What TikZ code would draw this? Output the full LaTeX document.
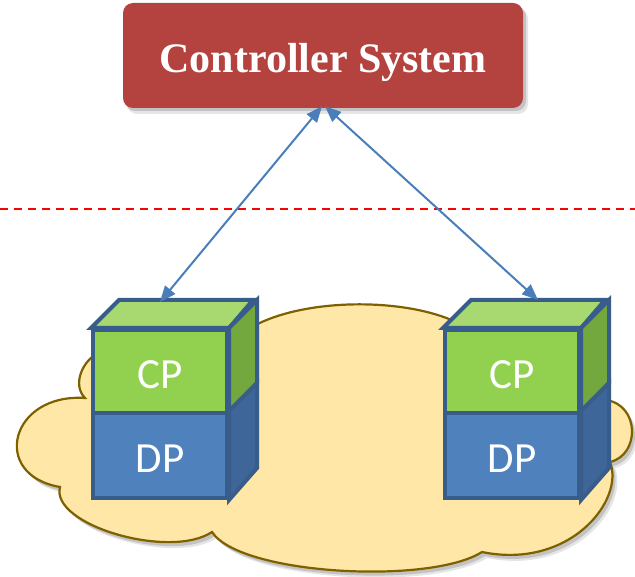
\documentclass[tikz,border=0pt]{standalone}
\usepackage{fontspec}
\setmainfont{Liberation Serif}
\newfontfamily\cpfont{Carlito}
\usetikzlibrary{arrows.meta}
\definecolor{ctrlred}{RGB}{180,67,63}
\definecolor{cloudfill}{RGB}{254,231,167}
\definecolor{cloudline}{RGB}{127,96,0}
\definecolor{cubeline}{RGB}{56,93,138}
\definecolor{gfront}{RGB}{146,208,80}
\definecolor{gtop}{RGB}{168,216,112}
\definecolor{gside}{RGB}{114,168,62}
\definecolor{bfront}{RGB}{79,129,189}
\definecolor{bside}{RGB}{63,102,152}
\definecolor{arrblue}{RGB}{74,126,187}
\tikzset{
  ctrlbox/.style={rectangle, rounded corners=10pt, fill=ctrlred, minimum width=400pt, minimum height=105pt, inner sep=0pt, text=white, text height=35pt, text depth=0pt, font=\fontsize{42}{50}\selectfont\bfseries},
  cpface/.style={rectangle, draw=cubeline, line width=4pt, fill=gfront, minimum width=134pt, minimum height=83pt, inner sep=0pt, text=white, text height=34pt, text depth=0pt, font=\cpfont\fontsize{43}{50}\selectfont},
  dpface/.style={rectangle, draw=cubeline, line width=4pt, fill=bfront, minimum width=134pt, minimum height=85pt, inner sep=0pt, text=white, text height=34pt, text depth=0pt, font=\cpfont\fontsize{43}{50}\selectfont},
  cubeedge/.style={draw=cubeline, line width=4pt, line join=miter},
  arr/.style={draw=arrblue, line width=2pt, {Triangle[length=16pt,width=13pt]}-{Triangle[length=16pt,width=13pt]}},
  sep/.style={draw=red, line width=2pt, dash pattern=on 8pt off 6pt},
  cloudstyle/.style={fill=cloudfill, draw=cloudline, line width=2.2pt},
}
\newcommand{\cloudpath}{(470,330) .. controls (420,295) and (290,295) .. (240,335)
  -- (110,345) -- (100,352) .. controls (82,360) and (72,385) .. (85,398)
  .. controls (10,393) and (-10,475) .. (60,487)
  .. controls (50,525) and (170,560) .. (212,532)
  .. controls (240,575) and (430,585) .. (482,552)
  .. controls (570,570) and (625,500) .. (610,462)
  .. controls (640,455) and (640,405) .. (606,400)
  -- (590,340) -- cycle}
\begin{document}
\begin{tikzpicture}[x=1pt,y=-1pt]
\useasboundingbox (0,0) rectangle (635,577);
% separator
\coordinate (sepL) at (0,209);
\coordinate (sepR) at (635,209);
\draw[sep] (sepL) -- (sepR);
% cloud with shadow
\fill[black, opacity=0.10] [shift={(5,6)}] \cloudpath;
\fill[black, opacity=0.15] [shift={(3,4)}] \cloudpath;
\path[cloudstyle] \cloudpath;
% controller shadow
\fill[black, opacity=0.10, rounded corners=10pt] (127,9) rectangle (528,114);
\fill[black, opacity=0.15, rounded corners=10pt] (125,6) rectangle (526,111);
\node[ctrlbox] (ctrl) at (323,55.5) {Controller System};
% left cube
\node[cpface] (cpL) at (160,371.5) {};
\node[dpface] (dpL) at (160,455.5) {};
\path[cubeedge, fill=gtop] (cpL.north west) -- ++(28,-28) -- ++(134,0) -- (cpL.north east) -- cycle;
\path[cubeedge, fill=gside] (cpL.north east) -- ++(28,-28) -- ++(0,83) -- (cpL.south east) -- cycle;
\path[cubeedge, fill=bside] (dpL.north east) -- ++(28,-28) -- ++(0,85) -- (dpL.south east) -- cycle;
\node[cpface] at (cpL) {CP};
\node[dpface] at (dpL) {DP};
% right cube
\node[cpface] (cpR) at (512,371.5) {};
\node[dpface] (dpR) at (512,455.5) {};
\path[cubeedge, fill=gtop] (cpR.north west) -- ++(28,-28) -- ++(134,0) -- (cpR.north east) -- cycle;
\path[cubeedge, fill=gside] (cpR.north east) -- ++(28,-28) -- ++(0,83) -- (cpR.south east) -- cycle;
\path[cubeedge, fill=bside] (dpR.north east) -- ++(28,-28) -- ++(0,85) -- (dpR.south east) -- cycle;
\node[cpface] at (cpR) {CP};
\node[dpface] at (dpR) {DP};
% arrows
\coordinate (tipL) at (160,302);
\coordinate (tipR) at (538,300);
\draw[arr] ([xshift=-1pt,yshift=2pt]ctrl.south) -- (tipL);
\draw[arr] ([xshift=2pt,yshift=2pt]ctrl.south) -- (tipR);
\end{tikzpicture}
\end{document}
